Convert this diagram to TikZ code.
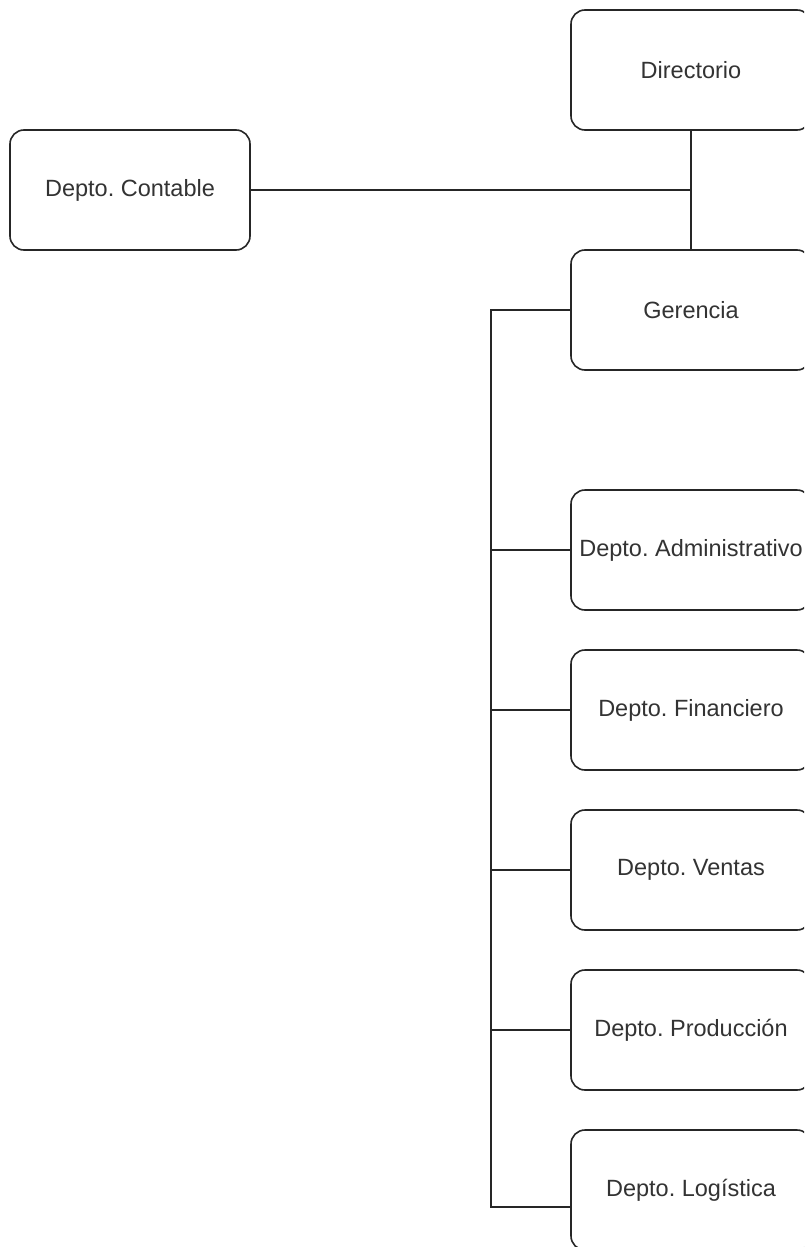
\documentclass[tikz,border=0pt]{standalone}
\usepackage{fontspec}
\setmainfont{Liberation Sans}
\usetikzlibrary{calc}
\frenchspacing
\begin{document}
\begin{tikzpicture}[x=1pt,y=-1pt,
  unit/.style={draw=black!85, line width=1.6pt, rounded corners=14pt, fill=white,
    minimum width=240pt, minimum height=120pt, inner sep=1pt,
    font=\fontsize{23.5}{28}\selectfont, text=black!80},
  link/.style={draw=black!85, line width=1.6pt}]
  \useasboundingbox (0,0) rectangle (804,1247);
  \clip (0,0) rectangle (804,1247);
  \fill[white] (0,0) rectangle (804,1247);

  % boxes of the chart
  \node[unit] (dir) at (691,70)   {Directorio};
  \node[unit] (con) at (130,190)  {Depto. Contable};
  \node[unit] (ger) at (691,310)  {Gerencia};
  \node[unit] (adm) at (691,550)  {Depto. Administrativo};
  \node[unit] (fin) at (691,710)  {Depto. Financiero};
  \node[unit] (ven) at (691,870)  {Depto. Ventas};
  \node[unit] (pro) at (691,1030) {Depto. Producción};
  \node[unit] (log) at (691,1190) {Depto. Logística};

  % top links
  \draw[link] (dir.south) -- (ger.north);
  \coordinate (j) at (dir.south |- con.east);
  \draw[link] (con.east) -- (j);

  % trunk from Gerencia down to the departments
  \coordinate (t) at (491,310);
  \coordinate (lin) at ($(log.west)+(0,17)$);
  \draw[link] (ger.west) -- (t) -- (t |- lin) -- (lin);
  \foreach \d in {adm,fin,ven,pro}
    \draw[link] (t |- \d.west) -- (\d.west);
\end{tikzpicture}
\end{document}
